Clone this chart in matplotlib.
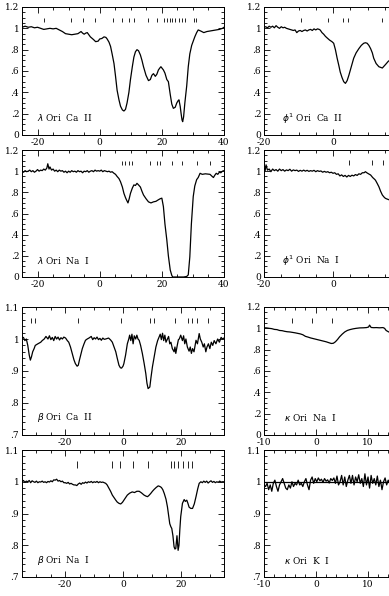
import matplotlib
matplotlib.use("Agg")
import matplotlib.pyplot as plt
from matplotlib.ticker import MultipleLocator, FuncFormatter

plt.rcParams["font.family"] = "DejaVu Serif"
plt.rcParams["axes.unicode_minus"] = False

# lambda Ori Ca II
lam_ca_v = [-25, -24, -23, -22, -21, -20, -19, -18, -17, -16, -15, -14, -13, -12, -11, -10, -9, -8, -7, -6,
            -5.5, -5, -4.5, -4, -3.5, -3, -2, -1.3, -0.5, 0, 0.7, 1.4, 2, 2.4, 3, 3.5, 4, 4.6, 5.1, 5.6,
            6.2, 6.7, 7.3, 7.8, 8.3, 8.8, 9.4, 9.9, 10.5, 11, 11.5, 12, 12.5, 13.1, 13.6, 14.1, 14.9, 15.7,
            16.3, 16.8, 17.3, 17.9, 18.4, 18.9, 19.4, 19.7, 20.1, 20.5, 21, 21.6, 22.1, 22.7, 23.2, 23.7,
            24.3, 24.8, 25.2, 25.5, 25.9, 26.2, 26.5, 26.7, 27, 27.4, 28, 28.5, 29, 29.6, 30.1, 30.6, 31.2,
            31.7, 32.5, 33.5, 34.5, 35.5, 36.5, 37.5, 38.5, 39.5, 40]
lam_ca_f = [1.01, 1.02, 1.01, 1.015, 1.005, 1.01, 1.0, 0.99, 0.995, 1.0, 0.995, 1.0, 0.985, 0.97, 0.95, 0.945,
            0.94, 0.945, 0.95, 0.97, 0.955, 0.945, 0.955, 0.96, 0.94, 0.92, 0.895, 0.875, 0.88, 0.9, 0.905,
            0.92, 0.915, 0.9, 0.87, 0.83, 0.76, 0.67, 0.55, 0.42, 0.33, 0.27, 0.235, 0.225, 0.24, 0.30, 0.40,
            0.52, 0.64, 0.73, 0.78, 0.80, 0.79, 0.75, 0.70, 0.64, 0.56, 0.51, 0.52, 0.56, 0.575, 0.55, 0.57,
            0.61, 0.63, 0.64, 0.625, 0.61, 0.58, 0.52, 0.50, 0.38, 0.29, 0.25, 0.26, 0.30, 0.32, 0.33, 0.27,
            0.20, 0.14, 0.125, 0.17, 0.30, 0.46, 0.64, 0.76, 0.84, 0.88, 0.92, 0.96, 0.985, 0.975, 0.96, 0.97,
            0.975, 0.98, 0.985, 0.99, 1.0, 1.01]
lam_ca_marks = [-18.0, -9.3, -5.5, -1.6, 4.4, 7.3, 9.4, 11.0, 15.6, 18.5, 20.6, 21.7, 22.5, 23.4, 24.3,
                25.4, 26.5, 27.5, 30.2, 30.9]

# lambda Ori Na I
lam_na_v = [-25, -24.5, -24, -23.5, -23, -22.5, -22, -21.5, -21, -20.5, -20, -19.5, -19, -18.5, -18, -17.5,
            -17, -16.7, -16.3, -16, -15.5, -15, -14.5, -14, -13.5, -13, -12.5, -12, -11.5, -11, -10.5, -10,
            -9.5, -9, -8.5, -8, -7.5, -7, -6.5, -6, -5.5, -5, -4.5, -4, -3.5, -3, -2.5, -2, -1.5, -1, -0.5,
            0, 0.5, 1, 1.5, 2, 2.5, 3, 3.5, 4, 4.6, 5.1, 5.6, 6.2, 6.7, 7.3, 7.8, 8.3, 8.6, 9.1, 9.5, 9.9,
            10.5, 11, 11.5, 12, 12.5, 13.1, 13.6, 14.1, 14.9, 15.7, 16.5, 17.3, 18.1, 18.9, 19.5, 20, 20.5,
            21, 21.6, 22.1, 22.7, 23.2, 23.5, 24.5, 25.9, 27, 28, 28.5, 29, 29.5, 30.1, 30.6, 31.2, 31.7,
            32.3, 33, 34, 35.5, 36.2, 36.6, 37, 37.5, 38, 38.5, 39, 39.5, 40]
lam_na_f = [1.0, 0.99, 1.005, 0.995, 1.0, 1.01, 0.995, 1.005, 0.99, 1.0, 1.015, 1.0, 1.01, 1.005, 1.02, 1.01,
            1.03, 1.07, 1.02, 1.04, 1.01, 1.02, 1.0, 1.01, 0.995, 1.01, 1.0, 1.005, 0.99, 1.0, 0.985, 1.0,
            0.99, 1.005, 0.995, 1.0, 0.99, 1.005, 0.995, 1.0, 0.985, 1.0, 0.995, 1.005, 0.99, 1.0, 1.005,
            0.995, 1.01, 1.0, 1.005, 1.0, 1.01, 0.995, 1.005, 1.0, 0.995, 1.0, 0.99, 0.995, 0.98, 0.97, 0.95,
            0.93, 0.90, 0.85, 0.79, 0.75, 0.73, 0.70, 0.74, 0.79, 0.84, 0.87, 0.865, 0.885, 0.87, 0.85, 0.81,
            0.775, 0.74, 0.71, 0.70, 0.71, 0.715, 0.73, 0.74, 0.745, 0.665, 0.5, 0.35, 0.2, 0.066, 0.015, 0.0,
            0.0, 0.0, 0.0, 0.005, 0.02, 0.19, 0.5, 0.76, 0.86, 0.92, 0.94, 0.98, 0.97, 0.975, 0.97, 0.95,
            0.94, 0.96, 0.98, 0.97, 0.99, 0.985, 1.0, 1.005]
lam_na_marks = [7.3, 8.3, 9.4, 10.5, 16.3, 18.5, 19.5, 23.3, 26.5, 31.3, 35.5]

# beta Ori Ca II
bet_ca_v = [-35.5, -34.5, -34, -33.5, -33, -32.5, -32.1, -31.7, -31.3, -30.8, -30.4, -29.5, -28.5, -28,
            -27.3, -26.7, -26, -25.5, -25, -24.5, -24, -23.5, -23, -22.5, -22, -21.5, -21, -20.5, -19.9,
            -19.3, -18.8, -18.2, -17.6, -17, -16.5, -15.9, -15.5, -15.1, -14.6, -14.1, -13.5, -13, -12.4,
            -11.8, -11, -10.5, -10, -9.5, -9, -8.5, -8, -7.5, -7, -6.5, -6, -5, -4.3, -3.7, -3.1, -2.5, -2,
            -1.4, -0.9, -0.5, 0, 0.3, 0.9, 1.5, 2, 2.3, 2.7, 3.1, 3.5, 3.9, 4.4, 4.8, 5.2, 5.6, 6.1, 6.7,
            7.3, 7.9, 8.3, 8.7, 9.3, 9.7, 10.2, 10.8, 11.4, 12, 12.5, 12.9, 13.3, 13.7, 14.1, 14.5, 14.9,
            15.4, 15.8, 16.2, 16.6, 17.1, 17.7, 18.0, 18.3, 18.8, 19.2, 19.5, 20, 20.6, 21, 21.4, 21.8, 22.3,
            22.9, 23.3, 23.7, 24.1, 24.6, 25, 25.3, 25.8, 26.4, 26.8, 27.3, 27.8, 28.2, 28.7, 29.1, 29.6,
            30.1, 30.6, 31.1, 31.6, 32.2, 32.8, 33.4, 34, 34.5, 35]
bet_ca_f = [1.0, 1.005, 0.995, 1.0, 0.98, 0.95, 0.934, 0.945, 0.96, 0.97, 0.98, 0.985, 0.99, 0.995, 1.0,
            1.008, 1.0, 1.01, 0.998, 1.005, 0.995, 1.008, 1.0, 1.006, 0.997, 1.004, 1.0, 1.006, 1.003, 0.995,
            0.99, 0.975, 0.955, 0.935, 0.923, 0.915, 0.918, 0.934, 0.952, 0.97, 0.985, 0.996, 1.0, 1.003,
            1.008, 0.998, 1.004, 1.0, 1.006, 0.998, 1.002, 0.996, 1.003, 0.999, 1.0, 1.003, 0.997, 0.99,
            0.975, 0.96, 0.94, 0.918, 0.91, 0.909, 0.915, 0.923, 0.95, 0.985, 1.0, 1.012, 0.995, 1.015, 0.985,
            1.01, 1.0, 1.012, 1.0, 0.996, 0.98, 0.955, 0.925, 0.892, 0.862, 0.845, 0.85, 0.88, 0.913, 0.945,
            0.975, 0.995, 1.006, 1.015, 0.998, 1.018, 0.995, 1.012, 0.99, 1.0, 1.008, 0.985, 0.99, 0.97, 0.96,
            0.975, 0.955, 0.98, 0.998, 1.0, 1.012, 0.995, 1.01, 0.985, 1.0, 0.975, 0.962, 0.975, 0.955, 0.97,
            0.96, 0.98, 0.996, 0.985, 1.017, 1.0, 0.99, 0.975, 0.985, 0.96, 0.975, 0.985, 0.97, 0.99, 0.98,
            0.995, 0.985, 1.0, 0.99, 1.005, 1.0, 1.003]
bet_ca_marks = [-31.9, -30.5, -15.5, -0.8, 9.4, 10.7, 18.0, 22.6, 23.8, 25.5, 29.3]

# beta Ori Na I
bet_na_v = [-35.5, -35, -34.5, -34, -33.5, -33, -32.5, -32, -31.5, -31, -30.5, -30, -29.5, -29, -28.5, -28,
            -27.5, -27, -26.5, -26, -25.5, -25, -24.5, -24, -23.5, -23, -22.5, -22, -21.5, -21, -20.5, -20,
            -19.5, -19, -18.5, -18, -17.5, -17, -16.5, -16, -15.5, -15, -14.5, -14, -13.5, -13, -12.5, -12,
            -11.5, -11, -10.5, -10, -9.5, -9, -8.5, -8, -7.5, -7, -6.5, -6, -5.5, -4.9, -4.3, -3.7, -3.1,
            -2.5, -2, -1.4, -0.8, -0.2, 0.3, 0.9, 1.5, 2.3, 3.2, 4, 4.8, 5.6, 6.4, 7.3, 7.9, 8.5, 9, 9.6,
            10.2, 10.8, 11.5, 12.2, 12.8, 13.3, 13.8, 14.3, 14.9, 15.4, 15.8, 16.2, 16.6, 16.9, 17.3, 17.7,
            18.0, 18.3, 18.7, 19.1, 19.4, 19.7, 20, 20.6, 21.2, 21.6, 22.1, 22.5, 22.9, 23.5, 24.1, 24.7,
            25.3, 25.9, 26.4, 27, 27.5, 28, 28.5, 29, 29.5, 30, 30.5, 31, 31.5, 32, 32.5, 33, 33.5, 34, 34.5,
            35]
bet_na_f = [1.005, 1.0, 1.004, 0.998, 1.002, 1.0, 1.004, 0.997, 1.003, 1.0, 0.998, 1.002, 0.997, 1.0, 0.999,
            1.002, 0.998, 1.0, 0.997, 1.001, 0.999, 1.003, 1.0, 1.006, 1.005, 1.008, 1.002, 1.004, 1.0, 1.002,
            0.997, 0.997, 0.995, 0.998, 0.993, 0.995, 0.992, 0.99, 0.99, 0.988, 0.993, 0.996, 0.992, 0.997,
            0.995, 0.999, 0.996, 1.0, 0.998, 1.001, 0.997, 1.0, 0.998, 1.001, 0.997, 1.0, 0.998, 0.999, 0.997,
            0.995, 0.99, 0.98, 0.97, 0.958, 0.95, 0.942, 0.936, 0.932, 0.93, 0.935, 0.942, 0.95, 0.958, 0.964,
            0.968, 0.966, 0.97, 0.97, 0.965, 0.958, 0.955, 0.953, 0.957, 0.963, 0.97, 0.976, 0.982, 0.987,
            0.985, 0.982, 0.975, 0.963, 0.945, 0.921, 0.895, 0.868, 0.858, 0.853, 0.83, 0.795, 0.788, 0.79,
            0.83, 0.784, 0.80, 0.85, 0.89, 0.932, 0.944, 0.938, 0.942, 0.932, 0.92, 0.916, 0.916, 0.93, 0.953,
            0.978, 0.995, 1.0, 0.997, 1.002, 0.998, 1.002, 0.996, 1.0, 1.003, 0.998, 1.001, 0.997, 1.0, 0.998,
            1.002, 0.999, 1.0, 1.0]
bet_na_marks = [-16.0, -3.9, -0.9, 3.5, 8.5, 16.7, 17.5, 18.9, 20.7, 22.4, 23.9]

# phi1 Ori Ca II
phi_ca_v = [-20, -19.5, -19, -18.5, -18, -17.5, -17, -16.5, -16, -15.5, -15, -14.5, -14, -13.5, -13, -12.5,
            -12, -11.5, -11, -10.5, -10, -9.5, -9, -8.5, -8, -7.5, -7, -6.5, -6, -5.5, -5, -4.5, -4, -3.7,
            -3.2, -2.7, -2.2, -1.7, -1, -0.3, 0.2, 0.7, 1.2, 1.7, 2.1, 2.6, 3.1, 3.6, 4.1, 4.6, 5.3, 6, 6.7,
            7.5, 8.2, 8.9, 9.4, 9.9, 10.4, 10.9, 11.4, 11.8, 12.5, 13.3, 14.3, 15.2, 16, 16.4, 17, 18]
phi_ca_f = [1.01, 1.015, 1.005, 1.02, 1.01, 1.02, 1.005, 1.025, 1.01, 1.0, 1.015, 1.005, 1.01, 1.0, 0.995,
            0.99, 0.985, 0.98, 0.985, 0.96, 0.975, 0.98, 0.97, 0.98, 0.985, 0.975, 0.985, 0.99, 0.98, 0.995,
            0.985, 0.995, 0.99, 0.984, 0.96, 0.945, 0.925, 0.91, 0.89, 0.875, 0.86, 0.80, 0.72, 0.65, 0.59,
            0.54, 0.50, 0.484, 0.51, 0.56, 0.64, 0.72, 0.77, 0.81, 0.84, 0.86, 0.865, 0.86, 0.84, 0.81, 0.77,
            0.72, 0.67, 0.64, 0.628, 0.66, 0.69, 0.70, 0.71, 0.72]
phi_ca_marks = [-9.3, -1.5, 2.8, 4.3, 14.1]

# phi1 Ori Na I
phi_na_v = [-20, -19.7, -19.4, -19, -18.5, -18, -17.5, -17, -16.5, -16, -15.5, -15, -14.5, -14, -13.5, -13,
            -12.5, -12, -11.5, -11, -10.5, -10, -9.5, -9, -8.5, -8, -7.5, -7, -6.5, -6, -5.5, -5, -4.5, -4,
            -3.5, -3, -2.5, -2, -1.5, -1, -0.5, 0, 0.5, 1, 1.5, 2, 2.5, 3, 3.5, 4, 4.5, 5, 5.5, 6, 6.5, 7,
            7.5, 8, 8.5, 9, 9.4, 9.8, 10.3, 10.9, 11.5, 12, 12.3, 12.8, 13.3, 13.8, 14.3, 14.8, 15.2, 15.8,
            16.4, 17, 18]
phi_na_f = [1.03, 1.0, 1.06, 1.01, 1.02, 0.995, 1.02, 1.005, 1.015, 1.0, 1.02, 1.005, 1.015, 1.0, 1.012,
            1.005, 1.018, 1.0, 1.012, 1.005, 1.01, 0.998, 1.008, 1.0, 1.01, 1.0, 1.008, 0.998, 1.005, 1.0,
            1.008, 0.995, 1.005, 0.998, 1.002, 0.99, 0.998, 0.99, 0.995, 0.985, 0.99, 0.98, 0.985, 0.97,
            0.975, 0.955, 0.965, 0.95, 0.96, 0.945, 0.96, 0.95, 0.962, 0.955, 0.968, 0.96, 0.975, 0.97, 0.985,
            0.985, 0.995, 0.985, 0.975, 0.964, 0.94, 0.925, 0.915, 0.885, 0.853, 0.81, 0.775, 0.755, 0.743,
            0.735, 0.728, 0.72, 0.72]
phi_na_marks = [4.6, 11.4, 14.6]

# kappa Ori Na I
kap_na_v = [-10, -9.5, -9, -8.5, -8, -7.5, -7, -6.5, -6, -5.5, -5, -4.5, -4, -3.5, -3, -2.5, -2, -1.5, -1,
            -0.5, 0, 0.5, 1, 1.5, 2, 2.5, 3, 3.4, 3.8, 4.2, 4.6, 5.1, 5.6, 6.1, 6.6, 7.2, 7.8, 8.5, 9.2, 9.8,
            10.2, 10.4, 10.7, 11.2, 11.7, 12.3, 13, 13.3, 13.6, 14.1, 15]
kap_na_f = [1.005, 1.004, 1.0, 0.997, 0.99, 0.988, 0.98, 0.978, 0.972, 0.968, 0.966, 0.962, 0.958, 0.953,
            0.948, 0.94, 0.925, 0.918, 0.91, 0.904, 0.898, 0.892, 0.886, 0.88, 0.874, 0.866, 0.858, 0.86,
            0.874, 0.895, 0.92, 0.945, 0.966, 0.98, 0.988, 0.995, 1.0, 1.004, 1.005, 1.007, 1.012, 1.03,
            1.008, 1.006, 1.007, 1.005, 1.007, 1.0, 0.98, 0.966, 0.96]
kap_na_marks = [-4.5, -0.8, 3.2]

# kappa Ori K I
kap_k_v = [-10.0, -9.7, -9.4, -9.1, -8.8, -8.5, -8.2, -7.9, -7.6, -7.3, -7.0, -6.7, -6.4, -6.1, -5.8, -5.5,
           -5.2, -4.9, -4.6, -4.3, -4.0, -3.7, -3.4, -3.1, -2.8, -2.5, -2.2, -1.9, -1.6, -1.3, -1.0, -0.7,
           -0.4, -0.1, 0.2, 0.5, 0.8, 1.1, 1.4, 1.7, 2.0, 2.3, 2.6, 2.9, 3.2, 3.5, 3.8, 4.1, 4.4, 4.7, 5.0,
           5.3, 5.6, 5.9, 6.2, 6.5, 6.8, 7.1, 7.4, 7.7, 8.0, 8.3, 8.6, 8.9, 9.2, 9.5, 9.8, 10.1, 10.4, 10.7,
           11.0, 11.3, 11.6, 11.9, 12.2, 12.5, 12.8, 13.1, 13.4, 13.7, 14.0, 14.3, 14.6, 14.9, 15.2]
kap_k_f = [0.99, 0.985, 0.995, 0.975, 0.99, 0.97, 0.995, 1.005, 0.985, 0.97, 0.99, 1.0, 1.01, 0.995, 0.98,
           0.975, 0.99, 0.98, 1.0, 0.985, 0.995, 0.99, 1.005, 0.99, 0.995, 0.985, 1.0, 1.01, 0.99, 0.975,
           1.005, 1.015, 0.995, 1.01, 1.0, 1.012, 1.003, 1.008, 0.998, 1.01, 1.002, 1.006, 0.996, 1.01, 1.004,
           1.012, 0.995, 1.018, 0.99, 1.0, 1.02, 0.99, 1.015, 0.985, 1.005, 1.02, 0.995, 1.02, 0.99, 1.015,
           1.0, 1.022, 0.995, 1.01, 0.985, 1.025, 0.99, 1.015, 0.98, 1.02, 0.995, 1.01, 0.99, 1.018, 0.985,
           1.005, 0.975, 1.0, 1.012, 0.99, 1.005, 0.995, 1.01, 0.998, 1.005]
kap_k_marks = []

W, H = 389, 596


def rect(x0, top, w, bottom):
    return [x0 / W, 1 - bottom / H, w / W, (bottom - top) / H]


def ylabfmt(v, pos):
    s = "%g" % round(v, 3)
    if s.startswith("0."):
        s = s[1:]
    return s


panels = [
    dict(r=rect(22, 7, 202, 135), v=lam_ca_v, f=lam_ca_f, m=lam_ca_marks, mr=(1.06, 1.10),
         xl=(-25, 40), xt=(20, 5), yl=(0, 1.2), yt=(0.2, 0.05), lab=r"$\lambda$ Ori  Ca  II", lp=(0.074, 0.133)),
    dict(r=rect(22, 150, 202, 277), v=lam_na_v, f=lam_na_f, m=lam_na_marks, mr=(1.06, 1.10),
         xl=(-25, 40), xt=(20, 5), yl=(0, 1.2), yt=(0.2, 0.05), lab=r"$\lambda$ Ori  Na  I", lp=(0.074, 0.128)),
    dict(r=rect(22, 307, 202, 435), v=bet_ca_v, f=bet_ca_f, m=bet_ca_marks, mr=(1.05, 1.067),
         xl=(-35, 35), xt=(20, 5), yl=(0.7, 1.1), yt=(0.1, 0.02), lab=r"$\beta$ Ori  Ca  II", lp=(0.074, 0.138)),
    dict(r=rect(22, 450, 202, 577), v=bet_na_v, f=bet_na_f, m=bet_na_marks, mr=(1.043, 1.065),
         xl=(-35, 35), xt=(20, 5), yl=(0.7, 1.1), yt=(0.1, 0.02), lab=r"$\beta$ Ori  Na  I", lp=(0.074, 0.128)),
    dict(r=rect(264, 7, 207, 135), v=phi_ca_v, f=phi_ca_f, m=phi_ca_marks, mr=(1.06, 1.10),
         xl=(-20, 40), xt=(20, 5), yl=(0, 1.2), yt=(0.2, 0.05), lab=r"$\phi^1$ Ori  Ca  II", lp=(0.085, 0.13)),
    dict(r=rect(264, 150, 207, 277), v=phi_na_v, f=phi_na_f, m=phi_na_marks, mr=(1.06, 1.11),
         xl=(-20, 40), xt=(20, 5), yl=(0, 1.2), yt=(0.2, 0.05), lab=r"$\phi^1$ Ori  Na  I", lp=(0.085, 0.128)),
    dict(r=rect(264, 307, 207, 435), v=kap_na_v, f=kap_na_f, m=kap_na_marks, mr=(1.05, 1.10),
         xl=(-10, 30), xt=(10, 2), yl=(0, 1.2), yt=(0.2, 0.05), lab=r"$\kappa$ Ori  Na  I", lp=(0.098, 0.138)),
    dict(r=rect(264, 450, 207, 577), v=kap_k_v, f=kap_k_f, m=kap_k_marks, mr=(1.05, 1.07),
         xl=(-10, 30), xt=(10, 2), yl=(0.7, 1.1), yt=(0.1, 0.02), lab=r"$\kappa$ Ori  K  I", lp=(0.098, 0.128)),
]

fig = plt.figure(figsize=(W / 100, H / 100), dpi=100)

for p in panels:
    ax = fig.add_axes(p["r"])
    ax.plot(p["v"], p["f"], color="black", lw=0.9)
    if p["m"]:
        ax.vlines(p["m"], p["mr"][0], p["mr"][1], color="black", lw=0.6)
    if p["v"] is kap_k_v:
        ax.axhline(1.0, color="black", lw=0.9)
    ax.set_xlim(*p["xl"])
    ax.set_ylim(*p["yl"])
    ax.xaxis.set_major_locator(MultipleLocator(p["xt"][0]))
    ax.xaxis.set_minor_locator(MultipleLocator(p["xt"][1]))
    ax.yaxis.set_major_locator(MultipleLocator(p["yt"][0]))
    ax.yaxis.set_minor_locator(MultipleLocator(p["yt"][1]))
    ax.yaxis.set_major_formatter(FuncFormatter(ylabfmt))
    ax.tick_params(which="both", direction="in", top=True, right=True, labelsize=6.5, pad=2, width=0.6)
    ax.tick_params(which="major", length=4)
    ax.tick_params(which="minor", length=2)
    for s in ax.spines.values():
        s.set_linewidth(0.7)
    ax.text(p["lp"][0], p["lp"][1], p["lab"], transform=ax.transAxes, fontsize=6.5, va="center", ha="left")

fig.savefig("out.png", dpi=100)
